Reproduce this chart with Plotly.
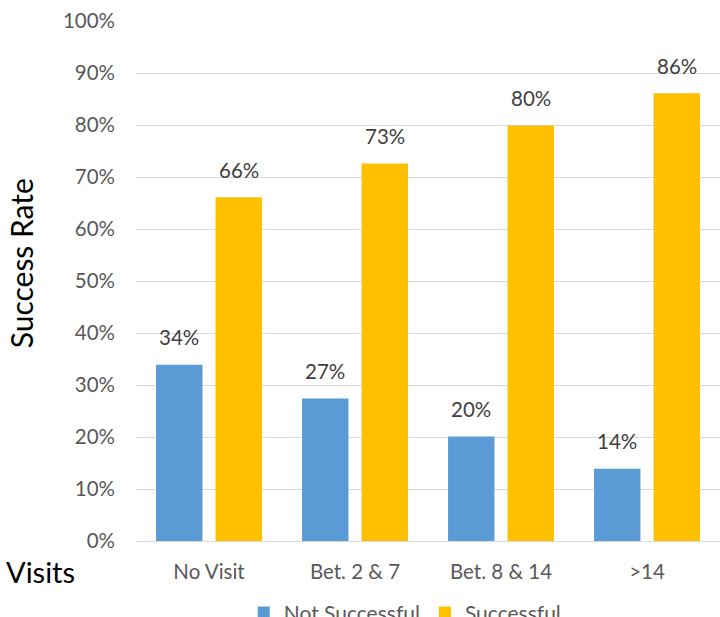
import plotly.graph_objects as go

categories = ["No Visit", "Bet. 2 & 7", "Bet. 8 & 14", ">14"]
not_successful = [33.9, 27.4, 20.1, 13.9]
successful = [66.1, 72.6, 79.9, 86.1]
series_names = ["Not Successful", "Successful"]
colors = ["#5B9BD5", "#FFC000"]
y_ticks = list(range(0, 101, 10))
y_tick_labels = [f"{v}%" for v in y_ticks]

FONT = "Lato, 'Open Sans', sans-serif"
H = 628

fig = go.Figure()
for name, vals, col in zip(series_names, [not_successful, successful], colors):
    fig.add_trace(go.Bar(
        x=categories, y=vals, name=name, marker=dict(color=col, line=dict(width=0)),
    ))

annotations = []
for vals, shift in [(not_successful, -30), (successful, 30)]:
    for c, v in zip(categories, vals):
        annotations.append(dict(
            x=c, y=v, xref="x", yref="y", text=f"{round(v)}%", showarrow=False,
            xshift=shift, yshift=27.5, font=dict(family=FONT, size=20.5, color="#404040"),
        ))

annotations.append(dict(
    x=-0.1627, y=-0.0587, xref="paper", yref="paper", text="Visits", showarrow=False,
    font=dict(family=FONT, size=29, color="#000000"), xanchor="center", yanchor="middle",
))
annotations.append(dict(
    x=-0.197, y=0.534, xref="paper", yref="paper", text="Success Rate", showarrow=False,
    textangle=-90, font=dict(family=FONT, size=30, color="#000000"),
    xanchor="center", yanchor="middle",
))

fig.update_layout(
    width=720, height=H,
    margin=dict(l=136, r=0, t=21.4, b=86.5, autoexpand=False),
    paper_bgcolor="white", plot_bgcolor="white",
    barmode="group", bargap=0.185, bargroupgap=0.22,
    font=dict(family=FONT, color="#595959"),
    xaxis=dict(showgrid=False, showline=False, ticks="", automargin=False,
               tickfont=dict(size=20.5, color="#595959"), ticklabelstandoff=16),
    yaxis=dict(range=[0, 100], tickvals=y_ticks, ticktext=y_tick_labels, automargin=False,
               showgrid=True, gridcolor="#D9D9D9", gridwidth=1, zeroline=True,
               zerolinecolor="#D9D9D9", zerolinewidth=1,
               showline=False, ticks="", tickfont=dict(size=20.5, color="#595959"),
               ticklabelstandoff=20),
    legend=dict(orientation="h", x=0.461, xanchor="center", y=-0.138, yanchor="middle",
                font=dict(family=FONT, size=21, color="#595959"), itemwidth=30,
                traceorder="normal"),
    annotations=annotations,
    showlegend=True,
)

post = (
    "var h=document.documentElement,b=document.body;"
    "h.style.margin='0';h.style.padding='0';h.style.overflow='hidden';"
    "b.style.margin='0';b.style.padding='0';b.style.overflow='hidden';"
)

fig.write_html("out.html", config={"displayModeBar": False}, post_script=post)
